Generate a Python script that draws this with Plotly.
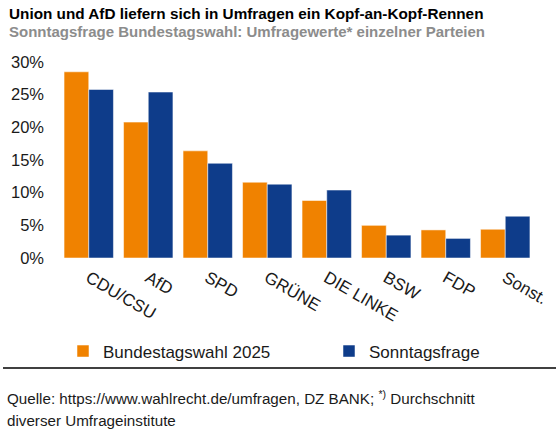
import plotly.graph_objects as go

parties = ["CDU/CSU", "AfD", "SPD", "GRÜNE", "DIE LINKE", "BSW", "FDP", "Sonst."]
wahl_2025 = [28.5, 20.8, 16.4, 11.6, 8.8, 5.0, 4.3, 4.4]
sonntagsfrage = [25.8, 25.4, 14.5, 11.3, 10.4, 3.5, 3.0, 6.4]
y_ticks = [0, 5, 10, 15, 20, 25, 30]
y_tick_labels = [f"{v}%" for v in y_ticks]

ORANGE = "#F08200"
BLUE = "#0E3C8A"
FONT = "Liberation Sans, Arial, sans-serif"

fig = go.Figure()
fig.add_trace(go.Bar(x=parties, y=wahl_2025, name="Bundestagswahl 2025", legend="legend",
                     marker=dict(color=ORANGE, line=dict(color="rgba(255,255,255,0.5)", width=1))))
fig.add_trace(go.Bar(x=parties, y=sonntagsfrage, name="Sonntagsfrage", legend="legend2",
                     marker=dict(color=BLUE, line=dict(color="rgba(255,255,255,0.5)", width=1))))

L, R, T, B = 59, 21, 62, 174
W, H = 556, 432
pw = W - L - R
ph = H - T - B

def px_x(x):
    return (x - L) / pw

def px_y(y):
    return (H - B - y) / ph

leg_common = dict(orientation="h", xanchor="left", y=1 - 351.5 / H, yanchor="middle",
                  xref="container", yref="container", itemwidth=30,
                  font=dict(size=17, color="#1a1a1a"), bgcolor="rgba(0,0,0,0)")

fig.update_layout(
    width=W, height=H,
    margin=dict(l=L, r=R, t=T, b=B, autoexpand=False),
    paper_bgcolor="white", plot_bgcolor="white",
    font=dict(family=FONT, size=16, color="#1a1a1a"),
    barmode="group", bargap=0.17, bargroupgap=0,
    showlegend=True,
    legend=dict(x=63 / W, **leg_common),
    legend2=dict(x=329 / W, **leg_common),
    xaxis=dict(showline=False, showgrid=False, ticks="", tickangle=30,
               tickfont=dict(size=17, color="#1a1a1a"), ticklabelstandoff=6),
    yaxis=dict(range=[0, 30], tickmode="array", tickvals=y_ticks, ticktext=y_tick_labels,
               showgrid=False, showline=False, zeroline=False, ticks="",
               tickfont=dict(size=16.5, color="#1a1a1a"), ticklabelstandoff=14),
)

fig.add_annotation(text="<b>Union und AfD liefern sich in Umfragen ein Kopf-an-Kopf-Rennen</b>",
                   xref="paper", yref="paper", x=px_x(7), y=px_y(13), xanchor="left", yanchor="middle",
                   showarrow=False, font=dict(size=15.3, color="#000000"))
fig.add_annotation(text="<b>Sonntagsfrage Bundestagswahl: Umfragewerte* einzelner Parteien</b>",
                   xref="paper", yref="paper", x=px_x(7), y=px_y(32), xanchor="left", yanchor="middle",
                   showarrow=False, font=dict(size=15, color="#8C8C8C"))
fig.add_annotation(text="Quelle: https://www.wahlrecht.de/umfragen, DZ BANK; <sup>*)</sup> Durchschnitt",
                   xref="paper", yref="paper", x=px_x(5), y=px_y(397), xanchor="left", yanchor="middle",
                   showarrow=False, font=dict(size=15.2, color="#1a1a1a"))
fig.add_annotation(text="diverser Umfrageinstitute",
                   xref="paper", yref="paper", x=px_x(5), y=px_y(420), xanchor="left", yanchor="middle",
                   showarrow=False, font=dict(size=15.2, color="#1a1a1a"))
fig.add_shape(type="line", xref="paper", yref="paper", x0=px_x(3), x1=px_x(556),
              y0=px_y(368), y1=px_y(368), line=dict(color="#000000", width=1.5))

fig.write_html("out.html", config={"displayModeBar": False},
               post_script="document.body.style.margin='0';")
